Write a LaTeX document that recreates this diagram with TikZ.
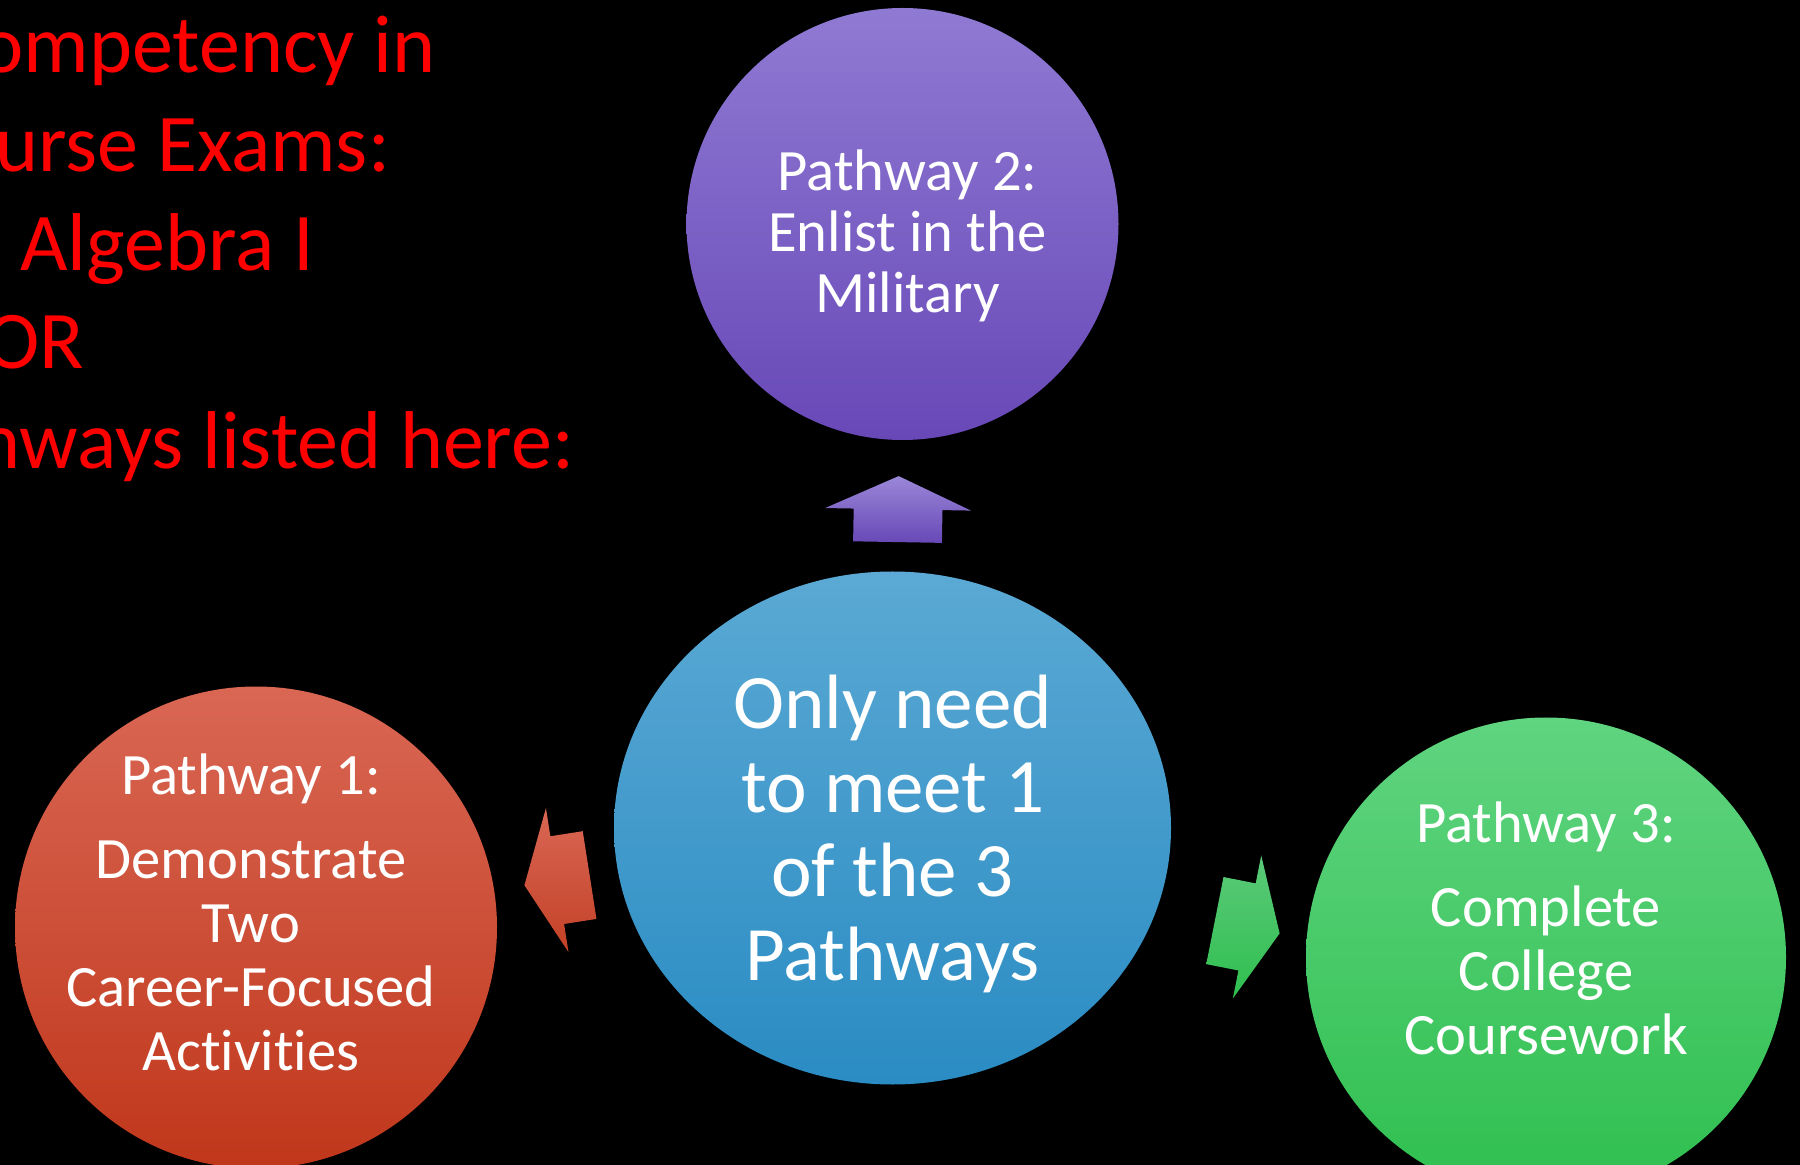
\documentclass[tikz,border=0pt]{standalone}
\usepackage{fontspec}
\setmainfont{Carlito}[Ligatures=NoCommon]
\usetikzlibrary{shapes.arrows, shapes.geometric}

\definecolor{purptop}{HTML}{8F7AD3}
\definecolor{purpbot}{HTML}{6848B7}
\definecolor{bluetop}{HTML}{5BA9D4}
\definecolor{bluebot}{HTML}{2A8CC3}
\definecolor{redtop}{HTML}{D96754}
\definecolor{redbot}{HTML}{C0371B}
\definecolor{greentop}{HTML}{60D480}
\definecolor{greenbot}{HTML}{2FBF4F}
\definecolor{titlered}{HTML}{FF0000}

\begin{document}
\begin{tikzpicture}[x=0.5pt, y=-0.5pt]
      \tikzstyle{pnode} = [circle, inner sep = 0pt]
      \tikzstyle{ptext} = [inner sep = 0pt, align=center, text=white, font=\fontsize{29.3}{32}\selectfont]
      \tikzstyle{hnode} = [ellipse, inner sep = 0pt, minimum width = 278.5pt, minimum height = 256.5pt]
      \tikzstyle{barrow} = [single arrow, inner xsep = 0pt, inner ysep = 22pt, minimum height = 33pt, single arrow head extend = 14.25pt, single arrow tip angle = 131, anchor = tail]
      \tikzstyle{tline} = [anchor = base west, inner sep = 0pt, text=titlered, font=\fontsize{41}{49.5}\selectfont]

      % background and page size
      \fill[black] (0,0) rectangle (1800,1165);
      \useasboundingbox (0,0) rectangle (1800,1165);

      %%%%%%%%%%%%%%%%%%%%%%%%%%%%%%
      %% Title lines (cut at the left edge)
      %%%%%%%%%%%%%%%%%%%%%%%%%%%%%%
      \node[tline] (t1) at (-20, 73) {ompetency in};
      \node[tline] (t2) at (-5, 172) {urse Exams:};
      \node[tline] (t3) at (20, 271) {Algebra I};
      \node[tline] (t4) at (-15, 369) {OR};
      \node[tline] (t5) at (-23, 469) {hways listed here:};

      %%%%%%%%%%%%%%%%%%%%%%%%%%%%%%
      %% Hub and the three pathways
      %%%%%%%%%%%%%%%%%%%%%%%%%%%%%%
      \node[hnode, top color=bluetop, bottom color=bluebot] (hub) at (892.5, 828) {};
      \node[ptext, font=\fontsize{38.5}{42}\selectfont] (hubt) at ([yshift=-3pt]hub.center) {Only need\\ to meet 1\\ of the 3\\ Pathways};

      \node[pnode, minimum size = 216pt, top color=purptop, bottom color=purpbot] (p2) at (902.5, 224) {};
      \node[ptext, font=\fontsize{29.3}{30.5}\selectfont] (p2t) at ([xshift=2.5pt, yshift=-6pt]p2.center) {Pathway 2:\\ Enlist in the\\ Military};

      \node[pnode, minimum size = 241pt, top color=redtop, bottom color=redbot] (p1) at (256, 927.5) {};
      \node[ptext] (p1t) at ([xshift=-2.5pt, yshift=7.5pt]p1.center) {Pathway 1:\\[10pt] Demonstrate\\ Two\\ Career-Focused\\ Activities};

      \node[pnode, minimum size = 240pt, top color=greentop, bottom color=greenbot] (p3) at (1546, 957.5) {};
      \node[ptext] (p3t) at ([yshift=14.5pt]p3.center) {Pathway 3:\\[10pt] Complete\\ College\\ Coursework};

      %%%%%%%%%%%%%%%%%%%%%%%%%%%%%%
      %% Block arrows from the hub
      %%%%%%%%%%%%%%%%%%%%%%%%%%%%%%
      \node[barrow, rotate=89, top color=purptop!90!white, bottom color=purpbot] (a2) at (897.5, 542.5) {};
      \node[barrow, rotate=188.9, top color=redtop, bottom color=redbot!95!white] (a1) at (590, 875) {};
      \node[barrow, rotate=-11.2, top color=greentop!95!black, bottom color=greenbot] (a3) at (1214.5, 920.5) {};
\end{tikzpicture}
\end{document}
